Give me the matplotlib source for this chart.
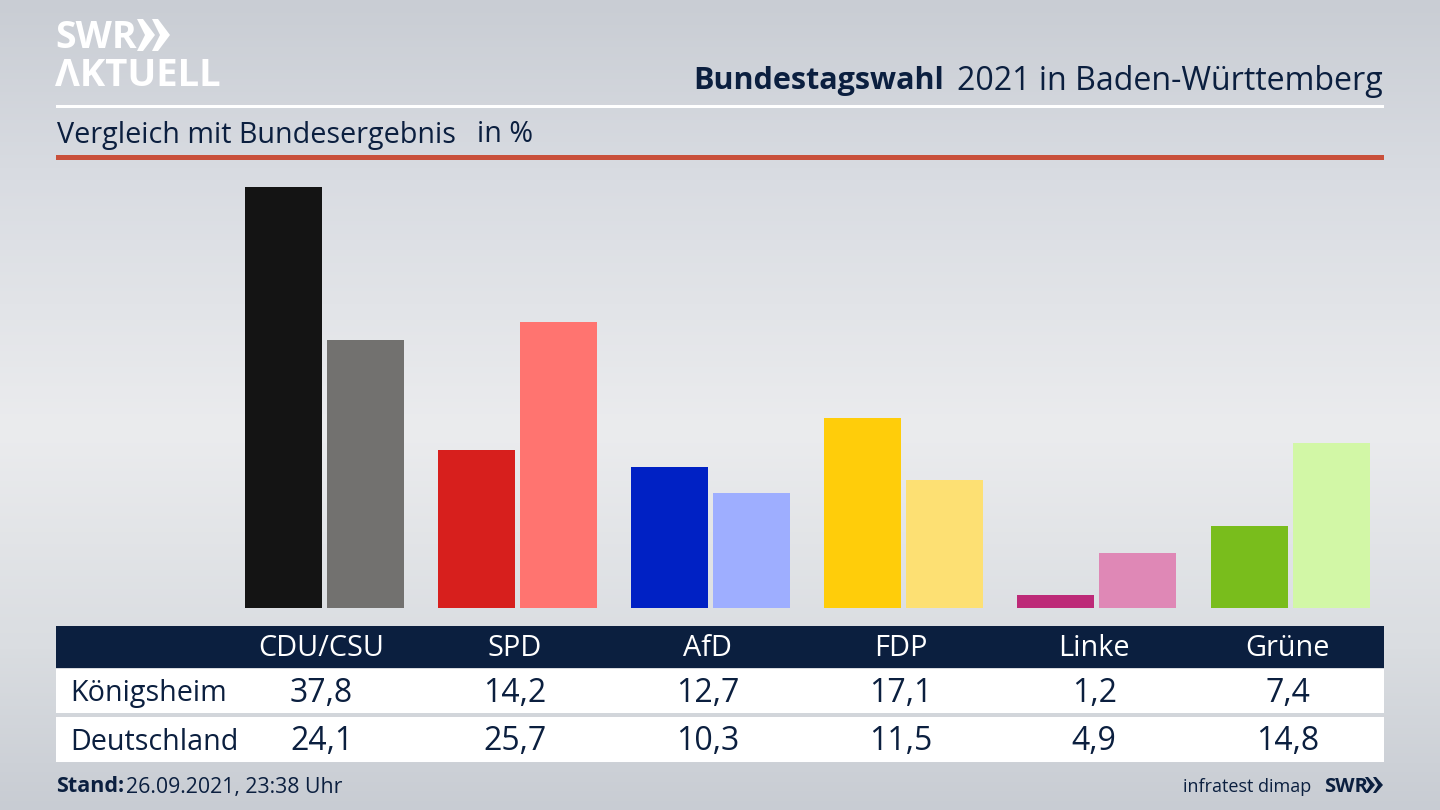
# -*- coding: utf-8 -*-
"""Bundestagswahl 2021: Königsheim vs Deutschland, SWR-style bar chart."""

import numpy as np
import matplotlib
matplotlib.use("Agg")
import matplotlib.pyplot as plt
from matplotlib.colors import LinearSegmentedColormap
from matplotlib.patches import Polygon, Rectangle

# data
PARTIES = ["CDU/CSU", "SPD", "AfD", "FDP", "Linke", "Grüne"]
KOENIGSHEIM = [37.8, 14.2, 12.7, 17.1, 1.2, 7.4]
DEUTSCHLAND = [24.1, 25.7, 10.3, 11.5, 4.9, 14.8]
ROW_NAMES = ["Königsheim", "Deutschland"]
COLORS_LOCAL = ["#141414", "#d71f1d", "#0021c4", "#ffcd0a", "#bd2a78", "#79bd1c"]
COLORS_NATIONAL = ["#72716f", "#ff7470", "#9eaeff", "#fde073", "#df88b6", "#d2f7a6"]

NAVY = "#0b1f3f"
W, H = 1440, 810
FONT = "Open Sans"

plt.rcParams["font.family"] = [FONT, "DejaVu Sans"]

fig = plt.figure(figsize=(14.4, 8.1), dpi=100)

# full-figure layer in pixel coordinates, y pointing down
bg = fig.add_axes([0, 0, 1, 1])
bg.set_xlim(0, W)
bg.set_ylim(H, 0)
bg.axis("off")

cmap = LinearSegmentedColormap.from_list(
    "bg", [(0.0, "#c9cdd4"), (0.22, "#d9dce2"), (0.53, "#ebecee"),
           (0.8, "#dadde1"), (1.0, "#c8ccd3")])
grad = np.linspace(0, 1, 256).reshape(-1, 1)
bg.imshow(grad, cmap=cmap, extent=(0, W, H, 0), aspect="auto", zorder=0)

# header
bg.add_patch(Rectangle((56, 105), 1328, 2.5, color="white", lw=0))
bg.add_patch(Rectangle((56, 155), 1328, 5, color="#c9503b", lw=0))
bg.text(1383, 81, "2021 in Baden-Württemberg", ha="right", va="center",
        fontsize=23.1, color=NAVY)
bg.text(944, 81, "Bundestagswahl", ha="right", va="center",
        fontsize=22, color=NAVY, fontweight="bold")
bg.text(57, 135, "Vergleich mit Bundesergebnis", ha="left", va="center",
        fontsize=20.7, color=NAVY)
bg.text(477, 135, "in %", ha="left", va="center", fontsize=20.7, color=NAVY)

# logo
bg.text(55, 38, "SWR", ha="left", va="center", fontsize=27, color="white",
        fontweight="bold")
bg.text(55, 76, "ΛKTUELL", ha="left", va="center", fontsize=27.5, color="white",
        fontweight="bold")
for x0 in (137, 152):
    bg.add_patch(Polygon([(x0, 19), (x0 + 6, 19), (x0 + 18, 35), (x0 + 6, 51),
                          (x0, 51), (x0 + 8, 35)], color="white", lw=0))

# table
bg.add_patch(Rectangle((56, 626), 1328, 42, color=NAVY, lw=0))
bg.add_patch(Rectangle((56, 669), 1328, 44, color="white", lw=0))
bg.add_patch(Rectangle((56, 717), 1328, 45, color="white", lw=0))
COL_X = 321.5 + 193.2 * np.arange(len(PARTIES))
for x, party, v1, v2 in zip(COL_X, PARTIES, KOENIGSHEIM, DEUTSCHLAND):
    bg.text(x, 649, party, ha="center", va="center", fontsize=20.8, color="white")
    bg.text(x, 693, f"{v1:.1f}".replace(".", ","), ha="center", va="center",
            fontsize=23, color=NAVY)
    bg.text(x, 742, f"{v2:.1f}".replace(".", ","), ha="center", va="center",
            fontsize=23, color=NAVY)
for y, name in zip((693, 742), ROW_NAMES):
    bg.text(70, y, name, ha="left", va="center", fontsize=20.7, color=NAVY)

# footer
bg.text(56, 787, "Stand:", ha="left", va="center", fontsize=15.5, color=NAVY,
        fontweight="bold")
bg.text(126, 787, "26.09.2021, 23:38 Uhr", ha="left", va="center", fontsize=15.3,
        color=NAVY)
bg.text(1311, 787, "infratest dimap", ha="right", va="center", fontsize=13,
        color=NAVY)
bg.text(1324, 787, "SWR", ha="left", va="center", fontsize=14.5, color=NAVY,
        fontweight="bold")
for x0 in (1365, 1373):
    bg.add_patch(Polygon([(x0, 777), (x0 + 3, 777), (x0 + 10, 785), (x0 + 3, 793),
                          (x0, 793), (x0 + 5, 785)], color=NAVY, lw=0))

# bars: group spacing 193 px, baseline at y=608, 37.8 % reaches y=187
ax = fig.add_axes([228 / W, (H - 608) / H, 1158.6 / W, 421 / H])
ax.set_xlim(-0.5, 5.5)
ax.set_ylim(0, 37.8)
ax.axis("off")
ax.patch.set_alpha(0)
x = np.arange(len(PARTIES))
bar_w = 77 / 193.1
offset = 41 / 193.1
ax.bar(x - offset, KOENIGSHEIM, bar_w, color=COLORS_LOCAL)
ax.bar(x + offset, DEUTSCHLAND, bar_w, color=COLORS_NATIONAL)

fig.savefig("out.png", dpi=100)
